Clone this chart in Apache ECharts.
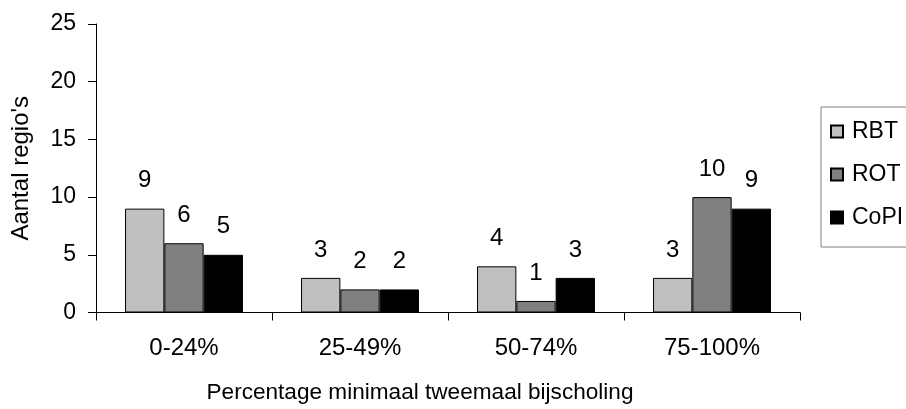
<!DOCTYPE html>
<html>
<head>
<meta charset="utf-8">
<script src="https://cdn.jsdelivr.net/npm/echarts@6/dist/echarts.min.js"></script>
<style>
html,body{margin:0;padding:0;background:#fff;}
#chart{width:906px;height:409px;}
</style>
</head>
<body>
<div id="chart"></div>
<script>
const categories = ['0-24%', '25-49%', '50-74%', '75-100%'];
const seriesNames = ['RBT', 'ROT', 'CoPI'];
const rbtValues = [9, 3, 4, 3];
const rotValues = [6, 2, 1, 10];
const copiValues = [5, 2, 3, 9];
const seriesColors = ['#C0C0C0', '#808080', '#000000'];
const yTicks = { min: 0, max: 25, interval: 5 };

const FONT = '"Liberation Sans", Arial, sans-serif';
const chart = echarts.init(document.getElementById('chart'), null, { renderer: 'canvas' });

const valueSets = [rbtValues, rotValues, copiValues];
const series = seriesNames.map((name, i) => ({
  name: name,
  type: 'bar',
  data: valueSets[i],
  barGap: '0%',
  barCategoryGap: '33%',
  itemStyle: { color: seriesColors[i], borderColor: '#000', borderWidth: 1 },
  label: {
    show: true,
    position: 'top',
    distance: 16,
    color: '#000',
    fontFamily: FONT,
    fontSize: 24,
    lineHeight: 24
  }
}));

chart.setOption({
  animation: false,
  backgroundColor: '#fff',
  grid: { left: 96, right: 106, top: 24, bottom: 93, containLabel: false },
  legend: {
    orient: 'vertical',
    left: 821,
    top: 107,
    padding: [13, 10, 18, 9],
    itemGap: 20,
    itemWidth: 12,
    itemHeight: 12,
    borderColor: '#808080',
    borderWidth: 1,
    borderRadius: 0,
    icon: 'rect',
    textStyle: { color: '#000', fontFamily: FONT, fontSize: 23, lineHeight: 20, padding: [0, 0, 0, 4] },
    data: seriesNames
  },
  xAxis: {
    type: 'category',
    data: categories,
    boundaryGap: true,
    name: 'Percentage minimaal tweemaal bijscholing',
    nameLocation: 'middle',
    nameGap: 69,
    nameTextStyle: { color: '#000', fontFamily: FONT, fontSize: 22.6, lineHeight: 22, padding: [0, 56, 0, 0] },
    axisLine: { lineStyle: { color: '#000', width: 1 } },
    axisTick: { show: true, alignWithLabel: false, length: 8, lineStyle: { color: '#000' } },
    axisLabel: { color: '#000', fontFamily: FONT, fontSize: 24, lineHeight: 24, margin: 24 },
    splitLine: { show: false }
  },
  yAxis: {
    type: 'value',
    min: yTicks.min,
    max: yTicks.max,
    interval: yTicks.interval,
    name: "Aantal regio's",
    nameLocation: 'middle',
    nameGap: 63,
    nameRotate: 90,
    nameTextStyle: { color: '#000', fontFamily: FONT, fontSize: 24, lineHeight: 24 },
    axisLine: { show: true, lineStyle: { color: '#000', width: 1 } },
    axisTick: { show: true, length: 8, lineStyle: { color: '#000' } },
    axisLabel: { color: '#000', fontFamily: FONT, fontSize: 23, margin: 20 },
    splitLine: { show: false }
  },
  series: series
});
</script>
</body>
</html>
